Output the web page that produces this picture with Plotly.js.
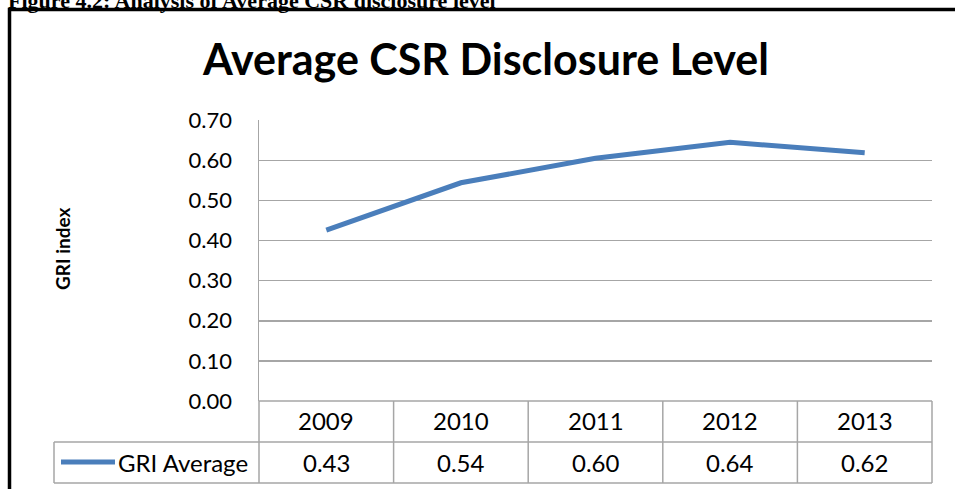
<!DOCTYPE html>
<html>
<head>
<meta charset="utf-8">
<script src="https://cdn.plot.ly/plotly-3.0.1.min.js"></script>
<style>
  html, body { margin: 0; padding: 0; background: #ffffff; }
  #chart { width: 955px; height: 489px; }
</style>
</head>
<body>
<div id="chart"></div>
<script>
// ---- data ----
const years = ['2009', '2010', '2011', '2012', '2013'];
const griAverage = [0.426, 0.544, 0.605, 0.645, 0.619];
const tableValues = ['0.43', '0.54', '0.60', '0.64', '0.62'];
const seriesName = 'GRI Average';
const chartTitle = 'Average CSR Disclosure Level';
const yAxisTitle = 'GRI index';
const caption = 'Figure 4.2: Analysis of Average CSR disclosure level';

// ---- layout helpers ----
const W = 955, H = 489;
const M = { l: 259, r: 23, t: 120, b: 88 };
const PW = W - M.l - M.r, PH = H - M.t - M.b;
const fx = px => (px - M.l) / PW;          // pixel x -> paper x
const fy = py => (H - M.b - py) / PH;      // pixel y -> paper y

const FONT = 'Lato, "Open Sans", sans-serif';
const gridColor = '#a6a6a6';
const lineColor = '#4a7ebb';

const rowH = 41;
const tableTop = H - M.b;            // bottom of plot area
const row1 = tableTop + rowH;
const row2 = tableTop + 2 * rowH;
const legendLeft = 54;

const shapes = [];
const lineStyle = { color: gridColor, width: 1.5 };
// horizontal table lines
shapes.push({ type: 'line', xref: 'paper', yref: 'paper', x0: 0, x1: 1, y0: fy(tableTop), y1: fy(tableTop), line: lineStyle });
shapes.push({ type: 'line', xref: 'paper', yref: 'paper', x0: fx(legendLeft), x1: 1, y0: fy(row1), y1: fy(row1), line: lineStyle });
shapes.push({ type: 'line', xref: 'paper', yref: 'paper', x0: fx(legendLeft), x1: 1, y0: fy(row2), y1: fy(row2), line: lineStyle });
// vertical table lines
for (let i = 0; i <= years.length; i++) {
  const xp = i / years.length;
  shapes.push({ type: 'line', xref: 'paper', yref: 'paper', x0: xp, x1: xp, y0: fy(tableTop), y1: fy(row2), line: lineStyle });
}
shapes.push({ type: 'line', xref: 'paper', yref: 'paper', x0: fx(legendLeft), x1: fx(legendLeft), y0: fy(row1), y1: fy(row2), line: lineStyle });
// legend sample line
shapes.push({ type: 'line', xref: 'paper', yref: 'paper', x0: fx(61), x1: fx(115), y0: fy(462), y1: fy(462), line: { color: lineColor, width: 5 } });
// outer frame
shapes.push({ type: 'rect', xref: 'paper', yref: 'paper', x0: fx(9.5), x1: fx(1000), y0: fy(9.5), y1: fy(560), line: { color: '#000000', width: 3.5 } });

const cellFont = { family: FONT, size: 24, color: '#000' };
const annotations = [];
years.forEach((yr, i) => {
  const xc = (i + 0.5) / years.length;
  annotations.push({ xref: 'paper', yref: 'paper', x: xc, y: fy((tableTop + row1) / 2 - 1), text: yr, showarrow: false, xanchor: 'center', yanchor: 'middle', font: cellFont });
  annotations.push({ xref: 'paper', yref: 'paper', x: xc, y: fy((row1 + row2) / 2), text: tableValues[i], showarrow: false, xanchor: 'center', yanchor: 'middle', font: cellFont });
});
annotations.push({ xref: 'paper', yref: 'paper', x: fx(116), y: fy((row1 + row2) / 2), text: seriesName, showarrow: false, xanchor: 'left', yanchor: 'middle', font: cellFont });
annotations.push({ xref: 'paper', yref: 'paper', x: fx(62), y: fy(249), text: '<b>' + yAxisTitle + '</b>', textangle: -90, showarrow: false, xanchor: 'center', yanchor: 'middle', font: { family: FONT, size: 19, color: '#000' } });
annotations.push({ xref: 'paper', yref: 'paper', x: fx(6), y: fy(0), text: '<b>' + caption + '</b>', showarrow: false, xanchor: 'left', yanchor: 'middle', font: { family: '"Liberation Serif", "Times New Roman", serif', size: 22, color: '#000' } });

const trace = {
  type: 'scatter',
  mode: 'lines',
  x: years,
  y: griAverage,
  name: seriesName,
  line: { color: lineColor, width: 5 },
  hoverinfo: 'x+y'
};

const layout = {
  width: W, height: H,
  margin: M,
  paper_bgcolor: '#ffffff',
  plot_bgcolor: '#ffffff',
  showlegend: false,
  title: { text: '<b>' + chartTitle + '</b>', x: fx(486), xref: 'paper', xanchor: 'center', y: 1 - 60 / H, yanchor: 'middle', font: { family: FONT, size: 43, color: '#000' } },
  xaxis: { type: 'category', range: [-0.5, 4.5], showticklabels: false, showgrid: false, zeroline: false, showline: false, ticks: '', fixedrange: true },
  yaxis: { range: [0, 0.7005], dtick: 0.1, tick0: 0, tickformat: '.2f', showgrid: true, gridcolor: gridColor, gridwidth: 1.5, zeroline: false, showline: true, linecolor: gridColor, linewidth: 1.5, ticks: '', ticklabelstandoff: 21, tickfont: { family: FONT, size: 22, color: '#000' }, fixedrange: true },
  shapes: shapes,
  annotations: annotations
};

Plotly.newPlot('chart', [trace], layout, { displayModeBar: false, staticPlot: true });
</script>
</body>
</html>
